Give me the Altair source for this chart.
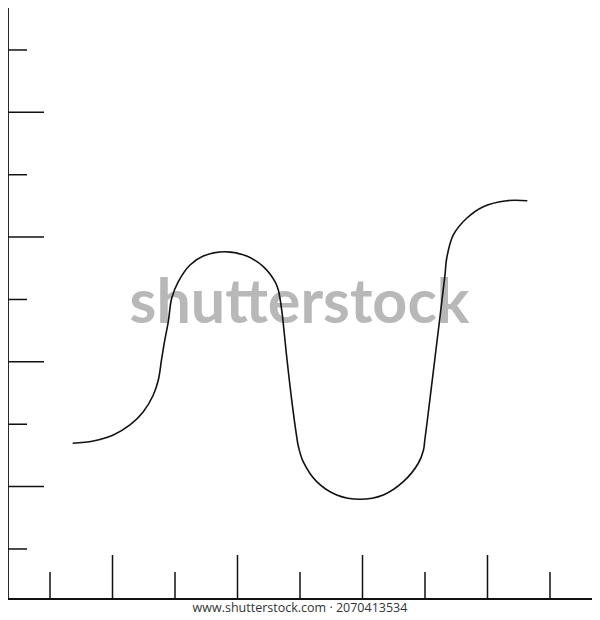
import altair as alt
import pandas as pd

# Curve points (data units: one tick spacing = 1)
curve_x = [1.363, 1.693, 2.013, 2.28, 2.493, 2.653, 2.733, 2.784, 2.837, 2.893, 2.947, 3.053,
           3.24, 3.453, 3.8, 4.147, 4.413, 4.6, 4.653, 4.707, 4.787, 4.867, 4.947, 4.976,
           5.053, 5.267, 5.587, 5.96, 6.333, 6.653, 6.893, 6.976, 6.997, 7.038, 7.179, 7.32,
           7.347, 7.453, 7.667, 7.933, 8.307, 8.637]
curve_y = [2.695, 2.731, 2.828, 2.988, 3.201, 3.469, 3.709, 4.030, 4.351, 4.644, 5.019, 5.285,
           5.553, 5.697, 5.766, 5.697, 5.526, 5.285, 5.152, 4.832, 4.083, 3.389, 2.800, 2.635,
           2.395, 2.079, 1.866, 1.797, 1.866, 2.079, 2.374, 2.587, 2.747, 3.068, 4.222, 5.393,
           5.661, 6.034, 6.302, 6.488, 6.584, 6.584]
tick_values = [1, 2, 3, 4, 5, 6, 7, 8, 9]
watermark = ["shutterstock"]
footer = ["www.shutterstock.com · 2070413534"]

W, H = 584, 591
xs = alt.Scale(domain=[0.328, 9.672], nice=False, zero=False)
ys = alt.Scale(domain=[0.198, 9.673], nice=False, zero=False)
INK = "#111111"

curve_df = pd.DataFrame({"x": curve_x, "y": curve_y})
ticks_df = pd.DataFrame({"t": tick_values})
ticks_df["major"] = ticks_df["t"] % 2 == 0
one = pd.DataFrame({"a": [0]})

wm = alt.Chart(pd.DataFrame({"label": watermark})).mark_text(
    font="Lato", fontWeight="bold", fontSize=61, color="#b8b8b8",
    align="center", baseline="alphabetic"
).encode(x=alt.value(291.5), y=alt.value(315), text="label:N")

curve = alt.Chart(curve_df).mark_line(
    color=INK, strokeWidth=1.6, interpolate="catmull-rom"
).encode(
    x=alt.X("x:Q", scale=xs, axis=None),
    y=alt.Y("y:Q", scale=ys, axis=None),
)

left_major = alt.Chart(ticks_df).transform_filter("datum.major").mark_rule(
    color=INK, strokeWidth=1.5
).encode(y=alt.Y("t:Q", scale=ys, axis=None), x=alt.value(0), x2=alt.value(36))

left_minor = alt.Chart(ticks_df).transform_filter("!datum.major").mark_rule(
    color=INK, strokeWidth=1.5
).encode(y=alt.Y("t:Q", scale=ys, axis=None), x=alt.value(0), x2=alt.value(19))

bottom_major = alt.Chart(ticks_df).transform_filter("datum.major").mark_rule(
    color=INK, strokeWidth=1.5
).encode(x=alt.X("t:Q", scale=xs, axis=None), y=alt.value(H), y2=alt.value(H - 44))

bottom_minor = alt.Chart(ticks_df).transform_filter("!datum.major").mark_rule(
    color=INK, strokeWidth=1.5
).encode(x=alt.X("t:Q", scale=xs, axis=None), y=alt.value(H), y2=alt.value(H - 27))

left_axis = alt.Chart(one).mark_rule(color=INK, strokeWidth=1.8).encode(
    x=alt.value(0), y=alt.value(0), y2=alt.value(H))
bottom_axis = alt.Chart(one).mark_rule(color=INK, strokeWidth=1.8).encode(
    x=alt.value(0), x2=alt.value(W), y=alt.value(H))

foot = alt.Chart(pd.DataFrame({"label": footer})).mark_text(
    font="Open Sans", fontSize=12.5, color="#333333", align="center", baseline="middle"
).encode(x=alt.value(292), y=alt.value(H + 9), text="label:N")

chart = alt.layer(
    wm, curve, left_major, left_minor, bottom_major, bottom_minor, left_axis, bottom_axis, foot
).properties(
    width=W, height=H,
    autosize=alt.AutoSizeParams(type="none"),
    padding={"left": 0, "top": 0, "right": 0, "bottom": 16},
    background="white",
).configure_view(stroke=None)

chart.save("out.html", embed_options={"renderer": "svg", "actions": False})
